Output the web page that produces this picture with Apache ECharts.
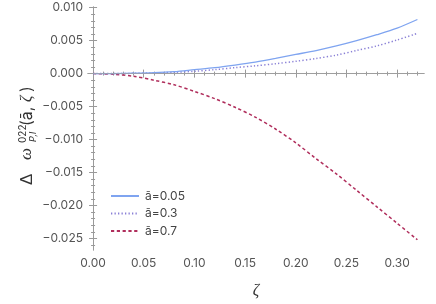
<!DOCTYPE html>
<html><head><meta charset="utf-8">
<script src="https://cdn.jsdelivr.net/npm/echarts@6/dist/echarts.min.js"></script>
<style>html,body{margin:0;padding:0;background:#fff}#c{width:436px;height:304px}</style>
</head><body><div id="c"></div>
<script>
// Data
const zeta = [0, 0.02, 0.04, 0.06, 0.08, 0.10, 0.12, 0.14, 0.16, 0.18, 0.20, 0.22, 0.24, 0.26, 0.28, 0.30, 0.32];
const a005 = [0, 0.00001, 0.00005, 0.00013, 0.0003, 0.0006, 0.0009, 0.0013, 0.00175, 0.0023, 0.0029, 0.0035, 0.0042, 0.0050, 0.0059, 0.0069, 0.0082];
const a03  = [0, 0.00001, 0.00004, 0.0001, 0.0002, 0.00035, 0.0006, 0.0009, 0.00118, 0.0015, 0.00187, 0.0023, 0.0028, 0.0035, 0.0042, 0.0051, 0.0061];
const a07  = [0, -0.0001, -0.0004, -0.0010, -0.0017, -0.0027, -0.0038, -0.0051, -0.0066, -0.0084, -0.0105, -0.0129, -0.0152, -0.0177, -0.0202, -0.0227, -0.0252];
const seriesNames = ['ā=0.05', 'ā=0.3', 'ā=0.7'];
const xTicks = [0, 0.05, 0.10, 0.15, 0.20, 0.25, 0.30];
const xMinor = [0.01,0.02,0.03,0.04,0.06,0.07,0.08,0.09,0.11,0.12,0.13,0.14,0.16,0.17,0.18,0.19,0.21,0.22,0.23,0.24,0.26,0.27,0.28,0.29,0.31,0.32];
const yTicks = [-0.025, -0.020, -0.015, -0.010, -0.005, 0, 0.005, 0.010];
const yMinor = [];
for (let i = -26; i <= 10; i++) { if (i % 5 !== 0) yMinor.push(i / 1000); }

const xMin = -0.005, xMax = 0.3265, yMin = -0.02675, yMax = 0.0101;
const frame = '#9a9a9a';
const labelFont = { fontFamily: 'Inter', fontSize: 12, color: '#555' };

function xAx(pos, ticks, len, showLine, labels) {
  return {
    type: 'value', position: pos, min: xMin, max: xMax,
    axisLine: { show: showLine, lineStyle: { color: frame, width: 1 } },
    axisTick: { show: true, inside: true, length: len, customValues: ticks, lineStyle: { color: frame, width: 1 } },
    axisLabel: labels ? Object.assign({ show: true, customValues: xTicks, margin: 7,
      formatter: v => v.toFixed(2) }, labelFont) : { show: false },
    splitLine: { show: false }
  };
}
function yAx(pos, ticks, len, showLine, labels) {
  return {
    type: 'value', position: pos, min: yMin, max: yMax,
    axisLine: { show: showLine, lineStyle: { color: frame, width: 1 } },
    axisTick: { show: true, inside: true, length: len, customValues: ticks, lineStyle: { color: frame, width: 1 } },
    axisLabel: labels ? Object.assign({ show: true, customValues: yTicks, margin: 5,
      formatter: v => { const s = Math.abs(v).toFixed(3); return v < -1e-9 ? '\u2212' + s : s; } }, labelFont) : { show: false },
    splitLine: { show: false }
  };
}

const chart = echarts.init(document.getElementById('c'), null, { renderer: 'canvas' });
const colors = ['#7fa4f0', '#8a80d6', '#b02e5c'];
const types = ['solid', [1.3, 2.2], [3.2, 2.6]];
const vals = [a005, a03, a07];
chart.setOption({
  animation: false,
  grid: { left: 88, right: 12, top: 7, bottom: 45 },
  xAxis: [
    Object.assign(xAx('bottom', xTicks, 4, true, true), { name: 'ζ', nameLocation: 'middle', nameGap: 33,
      nameTextStyle: { fontFamily: 'Liberation Serif', fontStyle: 'italic', fontSize: 16, color: '#333' } }),
    xAx('bottom', xMinor, 2, false, false),
    xAx('top', xTicks, 4, true, false),
    xAx('top', xMinor, 2, false, false)
  ],
  yAxis: [
    yAx('left', yTicks, 4, true, true),
    yAx('left', yMinor, 2, false, false),
    yAx('right', yTicks, 4, true, false),
    yAx('right', yMinor, 2, false, false)
  ],
  legend: {
    orient: 'vertical', left: 110, top: 190, padding: 0,
    itemWidth: 28, itemHeight: 14, itemGap: 5.5,
    itemStyle: { opacity: 0 },
    textStyle: { fontFamily: 'Inter', fontSize: 12, color: '#444', padding: [0, 0, 0, 1] },
    data: seriesNames
  },
  series: seriesNames.map((n, i) => ({
    name: n, type: 'line', xAxisIndex: 0, yAxisIndex: 0,
    data: zeta.map((z, k) => [z, vals[i][k]]),
    smooth: 0.3, symbol: 'none', showSymbol: false,
    itemStyle: { color: colors[i] },
    lineStyle: { color: colors[i], width: i === 0 ? 1.3 : 1.5, type: types[i] },
    markLine: i === 0 ? { silent: true, symbol: 'none', label: { show: false },
      lineStyle: { color: '#a0a0a0', width: 0.7, type: 'solid' }, data: [{ yAxis: 0 }] } : undefined,
    z: 3 - i
  })),
  graphic: [{
    type: 'group', x: 32, y: 185, rotation: Math.PI / 2,
    children: [
      { type: 'text', x: 0, y: -5, style: { text: 'Δ', font: '17px "Liberation Sans"', fill: '#333', verticalAlign: 'middle' } },
      { type: 'text', x: 25, y: -5, style: { text: 'ω', font: 'italic 17px "Liberation Serif"', fill: '#333', verticalAlign: 'middle' } },
      { type: 'text', x: 42, y: -9.5, style: { text: '022', font: '10px Inter', fill: '#333', verticalAlign: 'middle' } },
      { type: 'text', x: 43, y: 1.5, style: { text: 'P,l', font: 'italic 9px Inter', fill: '#333', verticalAlign: 'middle' } },
      { type: 'text', x: 59, y: -5, style: { text: '(ā, ', font: '16px Inter', fill: '#333', verticalAlign: 'middle' } },
      { type: 'text', x: 83, y: -5, style: { text: 'ζ', font: 'italic 16px "Liberation Serif"', fill: '#333', verticalAlign: 'middle' } },
      { type: 'text', x: 93, y: -5, style: { text: ')', font: '16px Inter', fill: '#333', verticalAlign: 'middle' } }
    ]
  }]
});
</script></body></html>
